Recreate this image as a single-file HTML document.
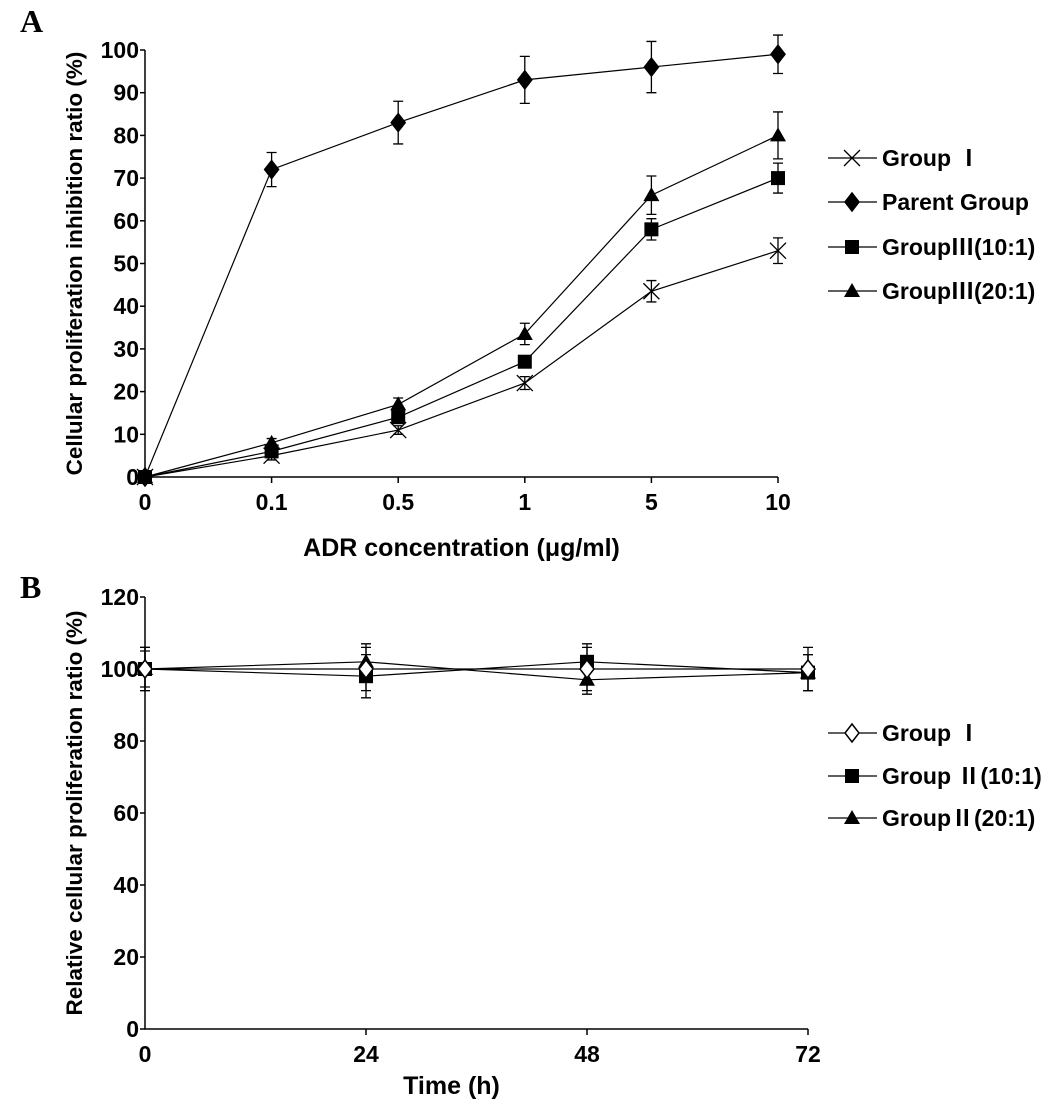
<!DOCTYPE html>
<html><head><meta charset="utf-8"><style>
html,body{margin:0;padding:0;background:#fff;}
svg{display:block;font-family:"Liberation Sans","Noto Sans CJK SC",sans-serif;}
</style></head><body>
<svg id="fig" width="1062" height="1108" viewBox="0 0 1062 1108" xmlns="http://www.w3.org/2000/svg">
<text x="20" y="32" font-family="Liberation Serif,serif" font-weight="bold" font-size="32">A</text>
<text x="20" y="598" font-family="Liberation Serif,serif" font-weight="bold" font-size="32">B</text>
<g id="chartA"></g>
<g id="chartB"></g>
</svg>
<script>
// Chart A data
const catsA = ["0","0.1","0.5","1","5","10"];
const yTicksA = [0,10,20,30,40,50,60,70,80,90,100];
const groupI_A = [0,5,11,22,43.5,53];
const groupI_errA = [0,1,1,1.5,2.5,3];
const parentA = [0,72,83,93,96,99];
const parent_errA = [0,4,5,5.5,6,4.5];
const g10A = [0,6,14,27,58,70];
const g10_errA = [0,1,1,1,2.5,3.5];
const g20A = [0,8,17,33.5,66,80];
const g20_errA = [0,1,1.5,2.5,4.5,5.5];
// Chart B data
const catsB = ["0","24","48","72"];
const yTicksB = [0,20,40,60,80,100,120];
const groupI_B = [100,100,100,100];
const groupI_errB = [6,6,6,6];
const g10B = [100,98,102,99];
const g10_errB = [6,6,5,5];
const g20B = [100,102,97,99];
const g20_errB = [5,5,4,5];

const NS="http://www.w3.org/2000/svg";
function mk(tag,attrs,parent){const e=document.createElementNS(NS,tag);for(const k in attrs)e.setAttribute(k,attrs[k]);parent.appendChild(e);return e;}

function marker(g,type,x,y,s){
  let e;
  if(type==="x"){
    e=mk("path",{d:`M${x-s} ${y-s}L${x+s} ${y+s}M${x-s} ${y+s}L${x+s} ${y-s}`,stroke:"#000","stroke-width":1.3,fill:"none"},g);
  }else if(type==="diamond"||type==="odiamond"){
    e=mk("path",{d:`M${x} ${y-s-1}L${x+s-1} ${y}L${x} ${y+s+1}L${x-s+1} ${y}Z`,fill:type==="diamond"?"#000":"#fff",stroke:"#000","stroke-width":1.5},g);
  }else if(type==="square"){
    e=mk("rect",{x:x-s+1,y:y-s+1,width:2*s-2,height:2*s-2,fill:"#000"},g);
  }else{
    e=mk("path",{d:`M${x} ${y-s}L${x+s} ${y+s-2}L${x-s} ${y+s-2}Z`,fill:"#000"},g);
  }
  return e;
}

function chart(root,cfg){
  const g=document.getElementById(root);
  const xs=i=>cfg.x0+i*(cfg.x1-cfg.x0)/(cfg.cats.length-1);
  const ys=v=>cfg.y0-(v-0)*(cfg.y0-cfg.yTop)/cfg.ymax;
  const ax=mk("path",{d:`M${cfg.x0} ${cfg.yTop}V${cfg.y0}H${cfg.x1}`,stroke:"#000","stroke-width":1.5,fill:"none"},g);
  
  
  cfg.yt.forEach(v=>{
    mk("line",{x1:cfg.x0-5,x2:cfg.x0,y1:ys(v),y2:ys(v),stroke:"#000","stroke-width":1.5},g);
    const t=mk("text",{x:cfg.x0-6,y:ys(v)+8,"text-anchor":"end","font-size":23,"font-weight":"bold"},g);
    t.textContent=v;
    
    
  });
  cfg.cats.forEach((c,i)=>{
    if(i>0)mk("line",{x1:xs(i),x2:xs(i),y1:cfg.y0,y2:cfg.y0+6,stroke:"#000","stroke-width":1.5},g);
    const t=mk("text",{x:xs(i),y:cfg.y0+33,"text-anchor":"middle","font-size":23,"font-weight":"bold"},g);
    t.textContent=c;
    
    
  });
  const xt=mk("text",{x:(cfg.x0+cfg.x1)/2+(cfg.xtDx||0),y:cfg.xtY,"text-anchor":"middle","font-size":25,"font-weight":"bold"},g);
  xt.textContent=cfg.xTitle;
  
  
  const yt=mk("text",{x:0,y:0,"text-anchor":"middle","font-size":22.5,"font-weight":"bold",transform:`translate(82 ${(cfg.y0+cfg.yTop)/2}) rotate(-90)`},g);
  yt.textContent=cfg.yTitle;
  
  
  cfg.series.forEach((s,si)=>{
    const sg=mk("g",{},g);
    
    
    const pts=s.vals.map((v,i)=>`${xs(i)},${ys(v)}`).join(" ");
    mk("polyline",{points:pts,fill:"none",stroke:"#000","stroke-width":1.2},sg);
    s.vals.forEach((v,i)=>{
      const e=s.err[i];
      if(e>0){
        mk("path",{d:`M${xs(i)} ${ys(v+e)}V${ys(v-e)}M${xs(i)-5} ${ys(v+e)}H${xs(i)+5}M${xs(i)-5} ${ys(v-e)}H${xs(i)+5}`,stroke:"#000","stroke-width":1.3,fill:"none"},sg);
      }
    });
    s.vals.forEach((v,i)=>{
      const m=marker(sg,s.m,xs(i),ys(v),8);
      
      
    });
    const ly=cfg.legY[s.leg];
    const lg=mk("g",{},g);
    
    
    mk("line",{x1:828,x2:877,y1:ly,y2:ly,stroke:"#000","stroke-width":1.3},lg);
    marker(lg,s.m,852,ly,8);
    const lt=mk("text",{x:882,y:ly+8,"font-size":23,"font-weight":"bold"},lg);
    lt.textContent=s.label;
  });
}

chart("chartA",{x0:145,x1:778,y0:477,yTop:50,ymax:100,cats:catsA,yt:yTicksA,
  xTitle:"ADR concentration (μg/ml)",xtY:556,yTitle:"Cellular proliferation inhibition ratio (%)",
  legY:[158,202,247,291],
  series:[
    {key:"group-i",label:"Group  Ⅰ",vals:groupI_A,err:groupI_errA,m:"x",leg:0},
    {key:"parent",label:"Parent Group",vals:parentA,err:parent_errA,m:"diamond",leg:1},
    {key:"group-iii-10",label:"GroupⅢ(10:1)",vals:g10A,err:g10_errA,m:"square",leg:2},
    {key:"group-iii-20",label:"GroupⅢ(20:1)",vals:g20A,err:g20_errA,m:"triangle",leg:3}
  ]});
chart("chartB",{x0:145,x1:808,y0:1029,yTop:597,ymax:120,cats:catsB,yt:yTicksB,
  xTitle:"Time (h)",xtY:1094,xtDx:-25,yTitle:"Relative cellular proliferation ratio (%)",
  legY:[733,776,818],
  series:[
    {key:"group-ii-10",label:"Group Ⅱ(10:1)",vals:g10B,err:g10_errB,m:"square",leg:1},
    {key:"group-ii-20",label:"GroupⅡ(20:1)",vals:g20B,err:g20_errB,m:"triangle",leg:2},
    {key:"group-i",label:"Group  Ⅰ",vals:groupI_B,err:groupI_errB,m:"odiamond",leg:0}
  ]});
</script>
</body></html>
